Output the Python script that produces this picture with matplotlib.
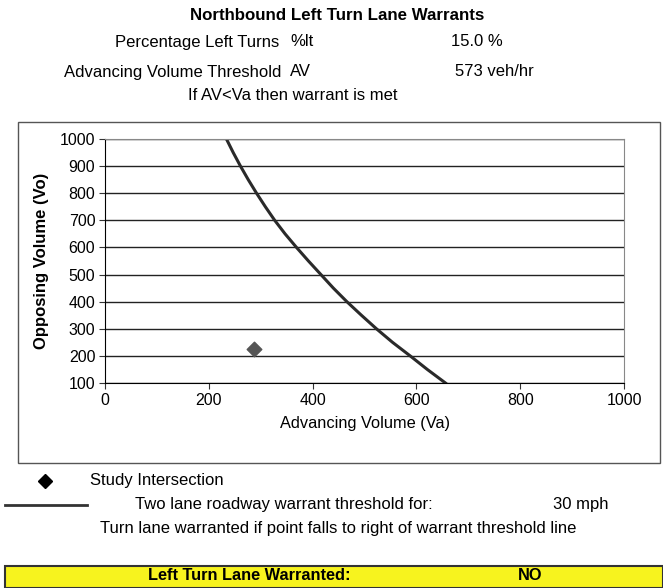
import matplotlib
matplotlib.use("Agg")
from matplotlib import pyplot as plt
from matplotlib.patches import Rectangle
from matplotlib.lines import Line2D

# threshold curve (30 mph, two lane roadway)
advancing = [234, 247, 261, 276, 292, 309, 327, 347, 369, 392, 416, 440,
             466, 494, 523, 554, 588, 621, 656]
opposing = [1000, 950, 900, 850, 800, 750, 700, 650, 600, 550, 500, 450,
            400, 350, 300, 250, 200, 150, 100]

# study intersection
study_va = [288]
study_vo = [224]

x_ticks = [0, 200, 400, 600, 800, 1000]
y_ticks = list(range(100, 1001, 100))

W, H = 663, 588
plt.rcParams['font.family'] = ['Liberation Sans', 'DejaVu Sans']

fig = plt.figure(figsize=(W / 100, H / 100), dpi=100)
FS = 12


def px(x, y):
    return x / W, 1 - y / H


def put(x, y, s, **kw):
    fx, fy = px(x, y)
    kw.setdefault('fontsize', FS)
    fig.text(fx, fy, s, va='center', **kw)


# header
put(337, 16, 'Northbound Left Turn Lane Warrants', ha='center', fontsize=12.2, fontweight='bold')
put(279, 42, 'Percentage Left Turns', ha='right')
put(290, 42, '%lt', ha='left')
put(451, 42, '15.0 %', ha='left')
put(281, 72, 'Advancing Volume Threshold', ha='right')
put(290, 72, 'AV', ha='left')
put(455, 72, '573 veh/hr', ha='left')
put(293, 96, 'If AV<Va then warrant is met', ha='center')

# chart frame
fx0, fy0 = px(18, 463)
fig.patches.append(Rectangle((fx0, fy0), (660 - 18) / W, (463 - 122) / H,
                             transform=fig.transFigure, fill=False,
                             edgecolor='#555555', linewidth=1.0))

l, r = 105 / W, 624 / W
b, t = 1 - 383 / H, 1 - 139 / H
ax = fig.add_axes([l, b, r - l, t - b])
ax.plot(advancing, opposing, color='#2a2a2a', linewidth=2.2)
ax.scatter(study_va, study_vo, marker='D', s=55, color='#555555', zorder=3)
ax.set_xlim(0, 1000)
ax.set_ylim(100, 1000)
ax.set_xticks(x_ticks)
ax.set_yticks(y_ticks)
ax.tick_params(labelsize=11.5, length=4, direction='out', color='#333333', pad=3)
ax.grid(axis='y', color='#222222', linewidth=1.0)
ax.set_axisbelow(True)
for sp in ['top', 'right']:
    ax.spines[sp].set_color('#888888')
ax.set_xlabel('Advancing Volume (Va)', fontsize=11.8, labelpad=6)
ax.set_ylabel('Opposing Volume (Vo)', fontsize=12, fontweight='bold', labelpad=8)

# legend block
dx, dy = px(45, 481)
fig.add_artist(Line2D([dx], [dy], marker='D', markersize=7, color='black',
                      transform=fig.transFigure))
put(90, 481, 'Study Intersection', ha='left')
lx0, ly = px(5, 505)
lx1, _ = px(87, 505)
fig.add_artist(Line2D([lx0, lx1], [ly, ly], color='#333333', linewidth=2,
                      transform=fig.transFigure))
put(135, 505, 'Two lane roadway warrant threshold for:', ha='left')
put(553, 505, '30 mph', ha='left')
put(100, 529, 'Turn lane warranted if point falls to right of warrant threshold line',
    ha='left')

# result bar
bx, by = px(5, 588)
fig.patches.append(Rectangle((bx, by), (663 - 5) / W, (588 - 566) / H,
                             transform=fig.transFigure, facecolor='#f7f31e',
                             edgecolor='#333333', linewidth=1.5))
put(148, 576, 'Left Turn Lane Warranted:', ha='left', fontsize=11.8, fontweight='bold')
put(518, 576, 'NO', ha='left', fontsize=11.8, fontweight='bold')

fig.savefig('out.png', dpi=100)
